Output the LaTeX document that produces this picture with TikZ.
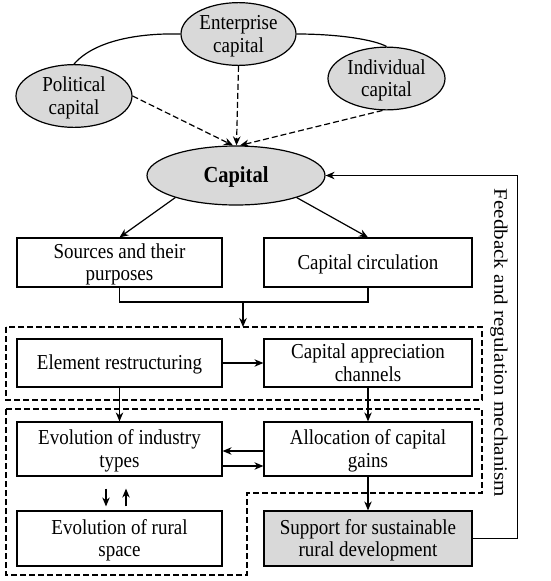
\documentclass[tikz,border=0pt]{standalone}
\usepackage{fontspec}
\setmainfont{Liberation Serif}
\usetikzlibrary{shapes.geometric,arrows.meta,calc}
\newcommand\tx[1]{\raisebox{-2.5pt}[\height][\depth]{\scalebox{1}[1.12]{\begin{tabular}{@{}c@{}}#1\end{tabular}}}}
\begin{document}
\begin{tikzpicture}[x=1pt,y=-1pt,
  font=\fontsize{19}{19.8}\selectfont,
  line width=1.2pt,
  oval/.style={ellipse,draw,fill=gray!30,inner sep=0pt,align=center},
  boxn/.style={rectangle,draw,inner sep=0pt,align=center},
  arr/.style={-{Stealth[length=9pt,width=7.5pt]}},
  dsh/.style={dash pattern=on 6pt off 3pt}]
\useasboundingbox (0,0) rectangle (550,581);
% ellipses
\node[oval,minimum width=115,minimum height=58] (ent) at (238.5,34) {\tx{Enterprise\\capital}};
\node[oval,minimum width=116,minimum height=58] (pol) at (74,96) {\tx{Political\\capital}};
\node[oval,minimum width=117,minimum height=59] (ind) at (386.5,78.5) {\tx{Individual\\capital}};
\node[oval,minimum width=178,minimum height=59] (cap) at (236,175.5) {\tx{\fontsize{20.5}{22}\selectfont\bfseries Capital}};
% boxes
\node[boxn,minimum width=205,minimum height=49] (src) at (119.5,262.5) {\tx{Sources and their\\purposes}};
\node[boxn,minimum width=208,minimum height=49] (circ) at (368,262.5) {\tx{Capital circulation}};
\node[boxn,minimum width=205,minimum height=48] (elem) at (119.5,363) {\tx{Element restructuring}};
\node[boxn,minimum width=208,minimum height=48] (appr) at (368,363) {\tx{Capital appreciation\\channels}};
\node[boxn,minimum width=205,minimum height=54] (indt) at (119.5,449) {\tx{Evolution of industry\\types}};
\node[boxn,minimum width=208,minimum height=54] (alloc) at (368,449) {\tx{Allocation of capital\\gains}};
\node[boxn,minimum width=205,minimum height=55] (rural) at (119.5,538.5) {\tx{Evolution of rural\\space}};
\node[boxn,fill=gray!30,minimum width=208,minimum height=55] (sup) at (368,538.5) {\tx{Support for sustainable\\rural development}};
% feedback label
\node[rotate=-90] (fb) at (499,343) {\scalebox{1.11}[1]{Feedback and regulation mechanism}};
% curves between top ellipses
\draw (pol.north) .. controls (95,40) and (140,33) .. (ent.west);
\draw (ent.east) .. controls (340,34) and (375,40) .. (ind.north);
% dashed arrows into capital
\draw[arr,dsh] (ent.south) -- ($(cap.north)+(0.5,0)$);
\draw[arr,dsh] (pol.east) -- ($(cap.north)+(-3,0)$);
\draw[arr,dsh] ($(ind.south)+(-4,0)$) -- ($(cap.north)+(4,0)$);
% capital to boxes
\draw[arr] (cap.200) -- (src.north);
\draw[arr] (cap.340) -- (circ.north);
% merge
\coordinate (mid) at (243,302);
\coordinate (dtop) at (243,327);
\draw (src.south) -- (src.south |- mid) -- (circ.south |- mid) -- (circ.south);
\draw[arr] (mid) -- (dtop);
% dashed box 1
\draw[dsh] (6,327) rectangle (482,400);
\draw[arr] (elem.east) -- (appr.west);
\draw[arr] (elem.south) -- (indt.north);
\draw[arr] (appr.south) -- (alloc.north);
% dashed box 2
\draw[dsh] (6,409) -- (482,409) -- (482,493) -- (247,493) -- (247,575) -- (6,575) -- cycle;
\draw[arr] ($(alloc.west)+(0,2)$) -- ($(indt.east)+(0,2)$);
\draw[arr] ($(indt.east)+(0,17)$) -- ($(alloc.west)+(0,17)$);
\draw[arr] ($(indt.south)+(-13.5,12)$) -- ($(rural.north)+(-13.5,-4)$);
\draw[arr] ($(rural.north)+(6.5,-4)$) -- ($(indt.south)+(6.5,12)$);
\draw[arr] (alloc.south) -- (sup.north);
% feedback loop
\draw[arr] (sup.east) -- ++(45,0) |- (cap.east);
\end{tikzpicture}
\end{document}
